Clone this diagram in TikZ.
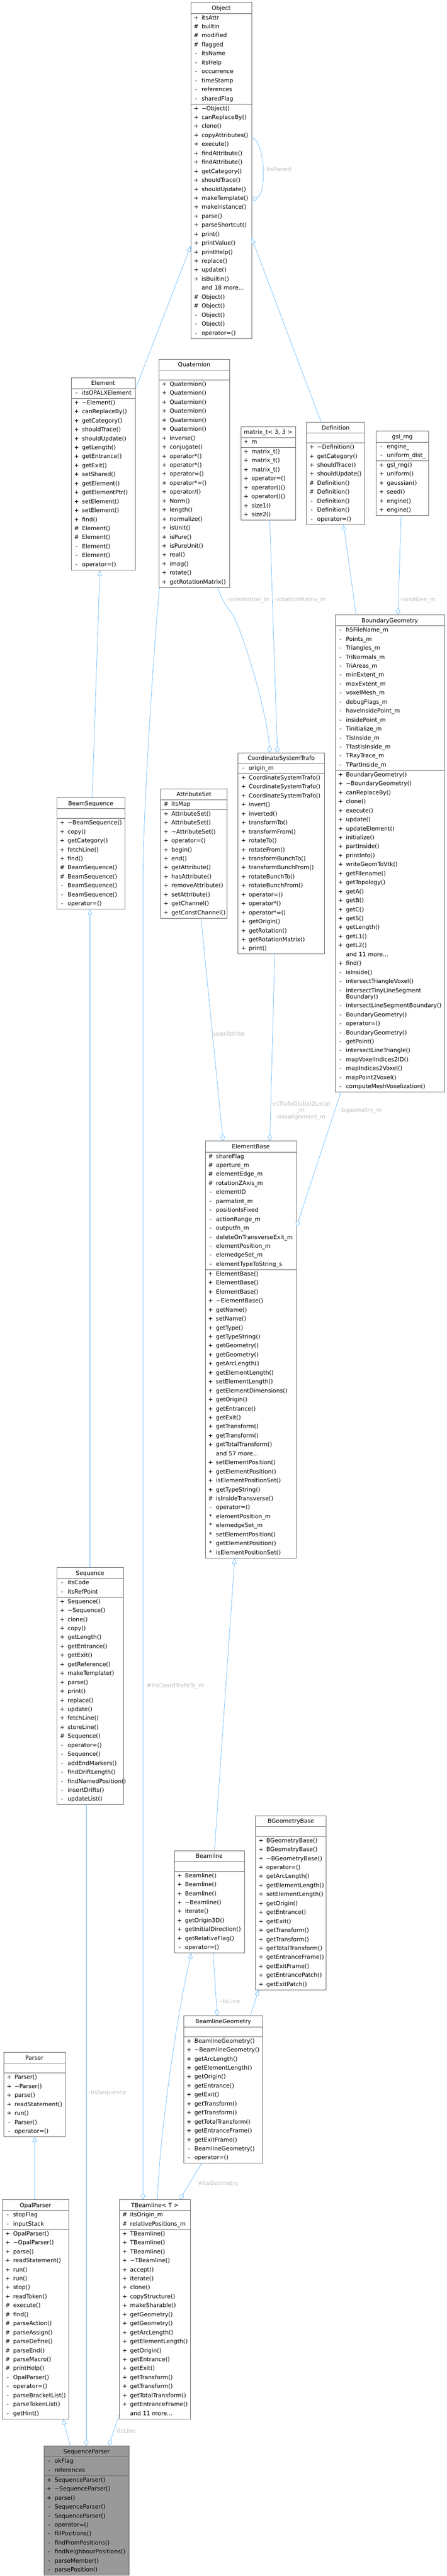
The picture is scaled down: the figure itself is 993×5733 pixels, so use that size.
\documentclass[tikz,border=0pt]{standalone}
\usepackage{fontspec}
\setmainfont{DejaVu Sans}
\usetikzlibrary{shapes,arrows.meta,positioning,calc}
\usepackage{xcolor}
\definecolor{edgeblue}{HTML}{63B8FF}
\definecolor{boxline}{HTML}{666666}
\definecolor{labelgray}{HTML}{BEBEBE}
\definecolor{maingray}{HTML}{999999}

\newcommand{\rowstrut}{\rule[-7pt]{0pt}{20pt}}
\newcommand{\pubrow}[1]{\makebox[24pt]{+}#1\rowstrut}
\newcommand{\prorow}[1]{\makebox[24pt]{\#}#1\rowstrut}
\newcommand{\prirow}[1]{\makebox[24pt]{-}#1\rowstrut}
\newcommand{\pkgrow}[1]{\makebox[24pt]{*}#1\rowstrut}
\newcommand{\morerow}[1]{\makebox[24pt]{}#1\rowstrut}
\newcommand{\classhead}[1]{\makebox[\hsize]{\rule[-6.5pt]{0pt}{22.5pt}#1}}

\tikzset{
  classbox/.style={rectangle split, rectangle split parts=3, draw=boxline, fill=white, line width=0.8pt,
    inner xsep=0pt, inner ysep=0.5pt, text width=#1, align=left, anchor=north west,
    font=\fontsize{12.8}{20}\selectfont},
  mainbox/.style={classbox=#1, fill=maingray},
  inherit/.style={draw=edgeblue, line width=0.8pt, -{Triangle[fill=white, length=12pt, width=10pt]}},
  aggreg/.style={draw=edgeblue, line width=0.8pt, -{Diamond[fill=white, length=15pt, width=10pt]}},
  edgelabel/.style={text=labelgray, font=\fontsize{12.8}{14.5}\selectfont, inner sep=0pt, anchor=west, align=center},
}

\begin{document}
\begin{tikzpicture}[x=1pt, y=-1pt]
\useasboundingbox (0,0) rectangle (993,5733);

\node[classbox=135pt] (object) at (424,5) {\classhead{Object}
  \nodepart{two}\pubrow{itsAttr}\\\prorow{builtin}\\\prorow{modified}\\\prorow{flagged}\\\prirow{itsName}\\
  \prirow{itsHelp}\\\prirow{occurrence}\\\prirow{timeStamp}\\\prirow{references}\\\prirow{sharedFlag}
  \nodepart{three}\pubrow{\textasciitilde Object()}\\\pubrow{canReplaceBy()}\\\pubrow{clone()}\\\pubrow{copyAttributes()}\\
  \pubrow{execute()}\\\pubrow{findAttribute()}\\\pubrow{findAttribute()}\\\pubrow{getCategory()}\\\pubrow{shouldTrace()}\\
  \pubrow{shouldUpdate()}\\\pubrow{makeTemplate()}\\\pubrow{makeInstance()}\\\pubrow{parse()}\\\pubrow{parseShortcut()}\\
  \pubrow{print()}\\\pubrow{printValue()}\\\pubrow{printHelp()}\\\pubrow{replace()}\\\pubrow{update()}\\\pubrow{isBuiltin()}\\
  \morerow{and 18 more...}\\\prorow{Object()}\\\prorow{Object()}\\\prirow{Object()}\\\prirow{Object()}\\\prirow{operator=()}};

\node[classbox=142pt] (element) at (158,840) {\classhead{Element}
  \nodepart{two}\prirow{itsOPALXElement}
  \nodepart{three}\pubrow{\textasciitilde Element()}\\\pubrow{canReplaceBy()}\\\pubrow{getCategory()}\\\pubrow{shouldTrace()}\\
  \pubrow{shouldUpdate()}\\\pubrow{getLength()}\\\pubrow{getEntrance()}\\\pubrow{getExit()}\\\pubrow{setShared()}\\
  \pubrow{getElement()}\\\pubrow{getElementPtr()}\\\pubrow{setElement()}\\\pubrow{setElement()}\\\pubrow{find()}\\
  \prorow{Element()}\\\prorow{Element()}\\\prirow{Element()}\\\prirow{Element()}\\\prirow{operator=()}};

\node[classbox=157pt] (quat) at (353,799) {\classhead{Quaternion}
  \nodepart{two}\rowstrut
  \nodepart{three}\pubrow{Quaternion()}\\\pubrow{Quaternion()}\\\pubrow{Quaternion()}\\\pubrow{Quaternion()}\\
  \pubrow{Quaternion()}\\\pubrow{Quaternion()}\\\pubrow{inverse()}\\\pubrow{conjugate()}\\\pubrow{operator*()}\\
  \pubrow{operator*()}\\\pubrow{operator=()}\\\pubrow{operator*=()}\\\pubrow{operator/()}\\\pubrow{Norm()}\\
  \pubrow{length()}\\\pubrow{normalize()}\\\pubrow{isUnit()}\\\pubrow{isPure()}\\\pubrow{isPureUnit()}\\
  \pubrow{real()}\\\pubrow{imag()}\\\pubrow{rotate()}\\\pubrow{getRotationMatrix()}};

\node[classbox=122pt] (matrix) at (535,949) {\classhead{matrix\_t< 3, 3 >}
  \nodepart{two}\pubrow{m}
  \nodepart{three}\pubrow{matrix\_t()}\\\pubrow{matrix\_t()}\\\pubrow{matrix\_t()}\\\pubrow{operator=()}\\
  \pubrow{operator()()}\\\pubrow{operator()()}\\\pubrow{size1()}\\\pubrow{size2()}};

\node[classbox=130pt] (definition) at (681,939) {\classhead{Definition}
  \nodepart{two}\rowstrut
  \nodepart{three}\pubrow{\textasciitilde Definition()}\\\pubrow{getCategory()}\\\pubrow{shouldTrace()}\\\pubrow{shouldUpdate()}\\
  \prorow{Definition()}\\\prorow{Definition()}\\\prirow{Definition()}\\\prirow{Definition()}\\\prirow{operator=()}};

\node[classbox=117pt] (gslrng) at (836,959) {\classhead{gsl\_rng}
  \nodepart{two}\prirow{engine\_}\\\prirow{uniform\_dist\_}
  \nodepart{three}\pubrow{gsl\_rng()}\\\pubrow{uniform()}\\\pubrow{gaussian()}\\\pubrow{seed()}\\\pubrow{engine()}\\\pubrow{engine()}};

\node[classbox=243pt] (bgeom) at (745,1368) {\classhead{BoundaryGeometry}
  \nodepart{two}\prirow{h5FileName\_m}\\\prirow{Points\_m}\\\prirow{Triangles\_m}\\\prirow{TriNormals\_m}\\
  \prirow{TriAreas\_m}\\\prirow{minExtent\_m}\\\prirow{maxExtent\_m}\\\prirow{voxelMesh\_m}\\\prirow{debugFlags\_m}\\
  \prirow{haveInsidePoint\_m}\\\prirow{insidePoint\_m}\\\prirow{Tinitialize\_m}\\\prirow{TisInside\_m}\\
  \prirow{TfastIsInside\_m}\\\prirow{TRayTrace\_m}\\\prirow{TPartInside\_m}
  \nodepart{three}\pubrow{BoundaryGeometry()}\\\pubrow{\textasciitilde BoundaryGeometry()}\\\pubrow{canReplaceBy()}\\
  \pubrow{clone()}\\\pubrow{execute()}\\\pubrow{update()}\\\pubrow{updateElement()}\\\pubrow{initialize()}\\
  \pubrow{partInside()}\\\pubrow{printInfo()}\\\pubrow{writeGeomToVtk()}\\\pubrow{getFilename()}\\\pubrow{getTopology()}\\
  \pubrow{getA()}\\\pubrow{getB()}\\\pubrow{getC()}\\\pubrow{getS()}\\\pubrow{getLength()}\\\pubrow{getL1()}\\
  \pubrow{getL2()}\\\morerow{and 11 more...}\\\pubrow{find()}\\\prirow{isInside()}\\\prirow{intersectTriangleVoxel()}\\
  \prirow{intersectTinyLineSegment}\\[-6pt]\morerow{Boundary()}\\\prirow{intersectLineSegmentBoundary()}\\
  \prirow{BoundaryGeometry()}\\\prirow{operator=()}\\\prirow{BoundaryGeometry()}\\\prirow{getPoint()}\\
  \prirow{intersectLineTriangle()}\\\prirow{mapVoxelIndices2ID()}\\\prirow{mapIndices2Voxel()}\\
  \prirow{mapPoint2Voxel()}\\\prirow{computeMeshVoxelization()}};

\node[classbox=192pt] (cst) at (529,1675) {\classhead{CoordinateSystemTrafo}
  \nodepart{two}\prirow{origin\_m}
  \nodepart{three}\pubrow{CoordinateSystemTrafo()}\\\pubrow{CoordinateSystemTrafo()}\\\pubrow{CoordinateSystemTrafo()}\\
  \pubrow{invert()}\\\pubrow{inverted()}\\\pubrow{transformTo()}\\\pubrow{transformFrom()}\\\pubrow{rotateTo()}\\
  \pubrow{rotateFrom()}\\\pubrow{transformBunchTo()}\\\pubrow{transformBunchFrom()}\\\pubrow{rotateBunchTo()}\\
  \pubrow{rotateBunchFrom()}\\\pubrow{operator=()}\\\pubrow{operator*()}\\\pubrow{operator*=()}\\\pubrow{getOrigin()}\\
  \pubrow{getRotation()}\\\pubrow{getRotationMatrix()}\\\pubrow{print()}};

\node[classbox=148pt] (attrset) at (357,1755) {\classhead{AttributeSet}
  \nodepart{two}\prorow{itsMap}
  \nodepart{three}\pubrow{AttributeSet()}\\\pubrow{AttributeSet()}\\\pubrow{\textasciitilde AttributeSet()}\\
  \pubrow{operator=()}\\\pubrow{begin()}\\\pubrow{end()}\\\pubrow{getAttribute()}\\\pubrow{hasAttribute()}\\
  \pubrow{removeAttribute()}\\\pubrow{setAttribute()}\\\pubrow{getChannel()}\\\pubrow{getConstChannel()}};

\node[classbox=151pt] (beamseq) at (126,1775) {\classhead{BeamSequence}
  \nodepart{two}\rowstrut
  \nodepart{three}\pubrow{\textasciitilde BeamSequence()}\\\pubrow{copy()}\\\pubrow{getCategory()}\\\pubrow{fetchLine()}\\
  \pubrow{find()}\\\prorow{BeamSequence()}\\\prorow{BeamSequence()}\\\prirow{BeamSequence()}\\\prirow{BeamSequence()}\\
  \prirow{operator=()}};

\node[classbox=203pt] (elembase) at (456,2539) {\classhead{ElementBase}
  \nodepart{two}\prorow{shareFlag}\\\prorow{aperture\_m}\\\prorow{elementEdge\_m}\\\prorow{rotationZAxis\_m}\\
  \prirow{elementID}\\\prirow{parmatint\_m}\\\prirow{positionIsFixed}\\\prirow{actionRange\_m}\\\prirow{outputfn\_m}\\
  \prirow{deleteOnTransverseExit\_m}\\\prirow{elementPosition\_m}\\\prirow{elemedgeSet\_m}\\\prirow{elementTypeToString\_s}
  \nodepart{three}\pubrow{ElementBase()}\\\pubrow{ElementBase()}\\\pubrow{ElementBase()}\\\pubrow{\textasciitilde ElementBase()}\\
  \pubrow{getName()}\\\pubrow{setName()}\\\pubrow{getType()}\\\pubrow{getTypeString()}\\\pubrow{getGeometry()}\\
  \pubrow{getGeometry()}\\\pubrow{getArcLength()}\\\pubrow{getElementLength()}\\\pubrow{setElementLength()}\\
  \pubrow{getElementDimensions()}\\\pubrow{getOrigin()}\\\pubrow{getEntrance()}\\\pubrow{getExit()}\\
  \pubrow{getTransform()}\\\pubrow{getTransform()}\\\pubrow{getTotalTransform()}\\\morerow{and 57 more...}\\
  \pubrow{setElementPosition()}\\\pubrow{getElementPosition()}\\\pubrow{isElementPositionSet()}\\\pubrow{getTypeString()}\\
  \prorow{isInsideTransverse()}\\\prirow{operator=()}\\\pkgrow{elementPosition\_m}\\\pkgrow{elemedgeSet\_m}\\
  \pkgrow{setElementPosition()}\\\pkgrow{getElementPosition()}\\\pkgrow{isElementPositionSet()}};

\node[classbox=148pt] (sequence) at (126,3488) {\classhead{Sequence}
  \nodepart{two}\prirow{itsCode}\\\prirow{itsRefPoint}
  \nodepart{three}\pubrow{Sequence()}\\\pubrow{\textasciitilde Sequence()}\\\pubrow{clone()}\\\pubrow{copy()}\\
  \pubrow{getLength()}\\\pubrow{getEntrance()}\\\pubrow{getExit()}\\\pubrow{getReference()}\\\pubrow{makeTemplate()}\\
  \pubrow{parse()}\\\pubrow{print()}\\\pubrow{replace()}\\\pubrow{update()}\\\pubrow{fetchLine()}\\\pubrow{storeLine()}\\
  \prorow{Sequence()}\\\prirow{operator=()}\\\prirow{Sequence()}\\\prirow{addEndMarkers()}\\\prirow{findDriftLength()}\\
  \prirow{findNamedPosition()}\\\prirow{insertDrifts()}\\\prirow{updateList()}};

\node[classbox=157pt] (bgbase) at (568,4040) {\classhead{BGeometryBase}
  \nodepart{two}\rowstrut
  \nodepart{three}\pubrow{BGeometryBase()}\\\pubrow{BGeometryBase()}\\\pubrow{\textasciitilde BGeometryBase()}\\
  \pubrow{operator=()}\\\pubrow{getArcLength()}\\\pubrow{getElementLength()}\\\pubrow{setElementLength()}\\
  \pubrow{getOrigin()}\\\pubrow{getEntrance()}\\\pubrow{getExit()}\\\pubrow{getTransform()}\\\pubrow{getTransform()}\\
  \pubrow{getTotalTransform()}\\\pubrow{getEntranceFrame()}\\\pubrow{getExitFrame()}\\\pubrow{getEntrancePatch()}\\
  \pubrow{getExitPatch()}};

\node[classbox=156pt] (beamline) at (387,4118) {\classhead{Beamline}
  \nodepart{two}\rowstrut
  \nodepart{three}\pubrow{Beamline()}\\\pubrow{Beamline()}\\\pubrow{Beamline()}\\\pubrow{\textasciitilde Beamline()}\\
  \pubrow{iterate()}\\\pubrow{getOrigin3D()}\\\pubrow{getInitialDirection()}\\\pubrow{getRelativeFlag()}\\
  \prirow{operator=()}};

\node[classbox=176pt] (blgeom) at (408,4486) {\classhead{BeamlineGeometry}
  \nodepart{two}\rowstrut
  \nodepart{three}\pubrow{BeamlineGeometry()}\\\pubrow{\textasciitilde BeamlineGeometry()}\\\pubrow{getArcLength()}\\
  \pubrow{getElementLength()}\\\pubrow{getOrigin()}\\\pubrow{getEntrance()}\\\pubrow{getExit()}\\\pubrow{getTransform()}\\
  \pubrow{getTransform()}\\\pubrow{getTotalTransform()}\\\pubrow{getEntranceFrame()}\\\pubrow{getExitFrame()}\\
  \prirow{BeamlineGeometry()}\\\prirow{operator=()}};

\node[classbox=136pt] (parser) at (8,4567) {\classhead{Parser}
  \nodepart{two}\rowstrut
  \nodepart{three}\pubrow{Parser()}\\\pubrow{\textasciitilde Parser()}\\\pubrow{parse()}\\\pubrow{readStatement()}\\
  \pubrow{run()}\\\prirow{Parser()}\\\prirow{operator=()}};

\node[classbox=147pt] (opalparser) at (5,4895) {\classhead{OpalParser}
  \nodepart{two}\prirow{stopFlag}\\\prirow{inputStack}
  \nodepart{three}\pubrow{OpalParser()}\\\pubrow{\textasciitilde OpalParser()}\\\pubrow{parse()}\\\pubrow{readStatement()}\\
  \pubrow{run()}\\\pubrow{run()}\\\pubrow{stop()}\\\pubrow{readToken()}\\\prorow{execute()}\\\prorow{find()}\\
  \prorow{parseAction()}\\\prorow{parseAssign()}\\\prorow{parseDefine()}\\\prorow{parseEnd()}\\\prorow{parseMacro()}\\
  \prorow{printHelp()}\\\prirow{OpalParser()}\\\prirow{operator=()}\\\prirow{parseBracketList()}\\
  \prirow{parseTokenList()}\\\prirow{getHint()}};

\node[classbox=158pt] (tbeam) at (265,4895) {\classhead{TBeamline< T >}
  \nodepart{two}\prorow{itsOrigin\_m}\\\prorow{relativePositions\_m}
  \nodepart{three}\pubrow{TBeamline()}\\\pubrow{TBeamline()}\\\pubrow{TBeamline()}\\\pubrow{\textasciitilde TBeamline()}\\
  \pubrow{accept()}\\\pubrow{iterate()}\\\pubrow{clone()}\\\pubrow{copyStructure()}\\\pubrow{makeSharable()}\\
  \pubrow{getGeometry()}\\\pubrow{getGeometry()}\\\pubrow{getArcLength()}\\\pubrow{getElementLength()}\\
  \pubrow{getOrigin()}\\\pubrow{getEntrance()}\\\pubrow{getExit()}\\\pubrow{getTransform()}\\\pubrow{getTransform()}\\
  \pubrow{getTotalTransform()}\\\pubrow{getEntranceFrame()}\\\morerow{and 11 more...}};

\node[mainbox=190pt] (seqparser) at (97,5443) {\classhead{SequenceParser}
  \nodepart{two}\prirow{okFlag}\\\prirow{references}
  \nodepart{three}\pubrow{SequenceParser()}\\\pubrow{\textasciitilde SequenceParser()}\\\pubrow{parse()}\\
  \prirow{SequenceParser()}\\\prirow{SequenceParser()}\\\prirow{operator=()}\\\prirow{fillPositions()}\\
  \prirow{findFromPositions()}\\\prirow{findNeighbourPositions()}\\\prirow{parseMember()}\\\prirow{parsePosition()}};

\draw[inherit] ([yshift=-27pt]element.north east) -- ([yshift=-543pt]object.north west);
\draw[inherit] ([xshift=33pt]definition.north west) -- ([yshift=-525pt]object.north east);
\draw[aggreg] ([yshift=-300pt]object.north east) .. controls +(32,15) and +(32,-15) .. ([yshift=-440pt]object.north east);
\draw[inherit] ([xshift=79pt]beamseq.north west) -- ([xshift=64pt]element.south west);
\draw[inherit] ([xshift=74pt]sequence.north west) -- ([xshift=74pt]beamseq.south west);
\draw[aggreg] ([xshift=131pt]quat.south west) .. controls +(12,30) and +(-20,-25) .. (518,1368)
  .. controls +(30,60) and +(-5,-80) .. ([xshift=71pt]cst.north west);
\draw[aggreg] ([xshift=65pt]matrix.south west) -- ([xshift=88pt]cst.north west);
\draw[aggreg] ([xshift=56pt]gslrng.south west) -- ([xshift=140pt]bgeom.north west);
\draw[inherit] ([xshift=47pt]bgeom.north west) -- ([xshift=83pt]definition.south west);
\draw[aggreg] ([xshift=13pt]bgeom.south west) -- ([yshift=-190pt]elembase.north east);
\draw[aggreg] ([xshift=82pt]cst.south west) -- ([xshift=144pt]elembase.north west);
\draw[aggreg] ([xshift=90pt]attrset.south west) -- ([xshift=40pt]elembase.north west);
\draw[aggreg] ([xshift=2pt]quat.south west) .. controls +(-8,60) and +(0,-150) .. (318,1950) -- ([xshift=53pt]tbeam.north west);
\draw[inherit] ([xshift=90pt]beamline.north west) -- ([xshift=66pt]elembase.south west);
\draw[inherit] ([xshift=85pt]tbeam.north west) .. controls +(5,-150) and +(-30,120) .. ([xshift=39pt]beamline.south west);
\draw[aggreg] ([xshift=87pt]beamline.south west) -- ([xshift=75pt]blgeom.north west);
\draw[inherit] ([xshift=149pt]blgeom.north west) -- ([xshift=7pt]bgbase.south west);
\draw[aggreg] ([xshift=40pt]blgeom.south west) -- ([xshift=135pt]tbeam.north west);
\draw[inherit] ([xshift=72pt]opalparser.north west) -- ([xshift=69pt]parser.south west);
\draw[inherit] ([xshift=59pt]seqparser.north west) -- ([xshift=135pt]opalparser.south west);
\draw[aggreg] ([xshift=66pt]sequence.south west) -- ([xshift=95pt]seqparser.north west);
\draw[aggreg] ([yshift=10pt]tbeam.south west) -- ([xshift=145pt]seqparser.north west);

\node[edgelabel] (lblparent) at (588,376) {-itsParent};
\node[edgelabel] (lblorient) at (505,1335) {-orientation\_m};
\node[edgelabel] (lblrotmat) at (611,1335) {-rotationMatrix\_m};
\node[edgelabel] (lblrandgen) at (890,1335) {-randGen\_m};
\node[edgelabel] (lblbgeom) at (755,2472) {-bgeometry\_m};
\node[edgelabel, anchor=center] (lbltrafo) at (668,2472) {-csTrafoGlobal2Local\\\_m\\-misalignment\_m};
\node[edgelabel] (lbluser) at (470,2300) {-userAttribs};
\node[edgelabel] (lblcoord) at (326,3752) {\#itsCoordTrafoTo\_m};
\node[edgelabel] (lblline) at (487,4454) {-itsLine};
\node[edgelabel] (lblgeom) at (440,4860) {\#itsGeometry};
\node[edgelabel] (lblseq) at (197,4658) {-itsSequence};
\node[edgelabel] (lblline2) at (255,5410) {-itsLine};
\end{tikzpicture}
\end{document}
